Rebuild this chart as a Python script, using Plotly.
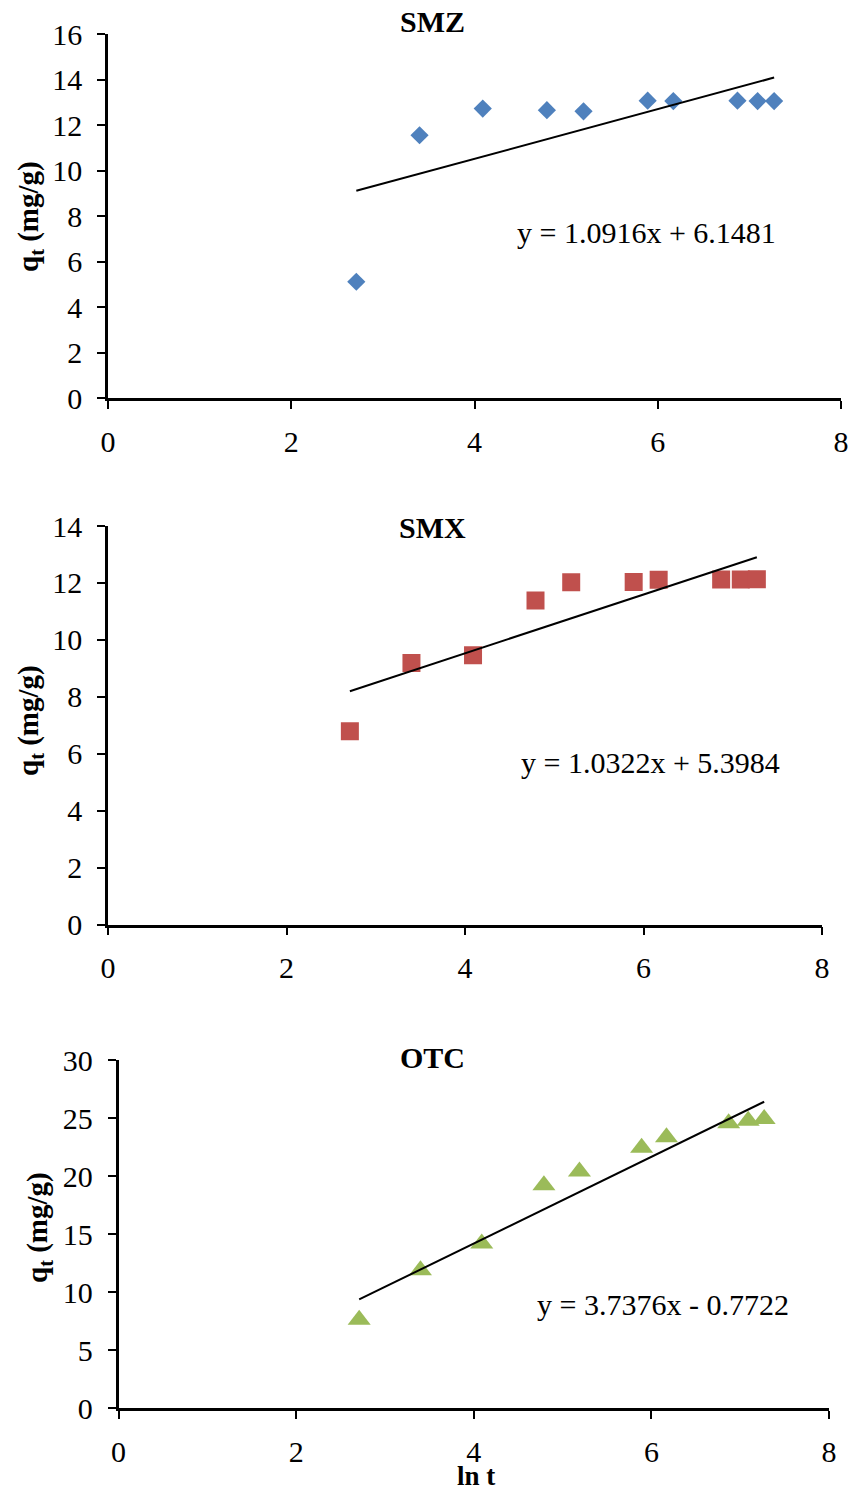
import plotly.graph_objects as go

# ---------------- data ----------------
ln_t = [2.71, 3.40, 4.09, 4.79, 5.19, 5.89, 6.17, 6.87, 7.09, 7.27]

smz_q = [5.11, 11.55, 12.72, 12.65, 12.60, 13.07, 13.05, 13.07, 13.05, 13.05]
smx_q = [6.79, 9.19, 9.46, 11.38, 12.02, 12.03, 12.11, 12.12, 12.12, 12.13]
otc_q = [7.61, 11.87, 14.18, 19.21, 20.38, 22.43, 23.33, 24.54, 24.77, 24.92]

panel_names = ["SMZ", "SMX", "OTC"]
slopes = [1.0916, 1.0322, 3.7376]
intercepts = [6.1481, 5.3984, -0.7722]
equations = ["y = 1.0916x + 6.1481", "y = 1.0322x + 5.3984", "y = 3.7376x - 0.7722"]
y_max = [16, 14, 30]
y_step = [2, 2, 5]
x_max = 8
x_step = 2

# ---------------- style ----------------
W, H = 851, 1490
FONT = "Liberation Serif"
colors = ["#4F81BD", "#C0504D", "#9BBB59"]
symbols = ["diamond", "square", "triangle-up"]
msizes = [14, 18, 20]

# plot-area pixel boxes (left, right, top, bottom)
boxes = [(108, 841, 34, 398), (108, 822, 526, 924.5), (118.5, 829, 1060, 1408)]


def pfx(x):
    return x / W


def pfy(y):
    return 1 - y / H


series = [smz_q, smx_q, otc_q]
fig = go.Figure()
layout = dict(width=W, height=H, margin=dict(l=0, r=0, t=0, b=0, autoexpand=False),
              paper_bgcolor="white", plot_bgcolor="white", showlegend=False,
              font=dict(family=FONT, color="black"))
annotations = []

for i in range(3):
    n = "" if i == 0 else str(i + 1)
    xa, ya = "x" + n, "y" + n
    fig.add_trace(go.Scatter(x=ln_t, y=series[i], mode="markers", xaxis=xa, yaxis=ya,
                             marker=dict(symbol=symbols[i], size=msizes[i], color=colors[i],
                                         line=dict(width=0))))
    x0, x1 = min(ln_t), max(ln_t)
    fig.add_trace(go.Scatter(x=[x0, x1], y=[slopes[i] * x0 + intercepts[i], slopes[i] * x1 + intercepts[i]],
                             mode="lines", xaxis=xa, yaxis=ya,
                             line=dict(color="black", width=2)))
    l, r, t, b = boxes[i]
    common = dict(showline=True, linecolor="black", linewidth=2.5, ticks="outside",
                  ticklen=8, tickwidth=1.5, tickcolor="black", showgrid=False, zeroline=False,
                  automargin=False, tickfont=dict(family=FONT, size=30, color="black"))
    layout["xaxis" + n] = dict(domain=[pfx(l), pfx(r)], range=[0, x_max], dtick=x_step, tick0=0,
                               anchor=ya, ticklabelstandoff=7, **common)
    layout["yaxis" + n] = dict(domain=[pfy(b), pfy(t)], range=[0, y_max[i]], dtick=y_step[i], tick0=0,
                               anchor=xa, ticklabelstandoff=9, **common)

# titles
title_pos = [(432, 22), (432, 527), (432, 1057)]
for i in range(3):
    annotations.append(dict(text="<b>%s</b>" % panel_names[i], x=pfx(title_pos[i][0]), y=pfy(title_pos[i][1]),
                            xref="paper", yref="paper", showarrow=False, xanchor="center", yanchor="middle",
                            font=dict(family=FONT, size=30, color="black")))
# equations
eq_pos = [(646, 233), (650, 762), (663, 1304)]
for i in range(3):
    annotations.append(dict(text=equations[i], x=pfx(eq_pos[i][0]), y=pfy(eq_pos[i][1]),
                            xref="paper", yref="paper", showarrow=False, xanchor="center", yanchor="middle",
                            font=dict(family=FONT, size=30, color="black")))
# y titles
yt_pos = [(30, 217), (30, 721), (39, 1228)]
for i in range(3):
    annotations.append(dict(text="<b>q<sub>t</sub> (mg/g)</b>", x=pfx(yt_pos[i][0]), y=pfy(yt_pos[i][1]),
                            xref="paper", yref="paper", showarrow=False, xanchor="center", yanchor="middle",
                            textangle=-90, font=dict(family=FONT, size=29, color="black")))
# x title
annotations.append(dict(text="<b>ln t</b>", x=pfx(476), y=pfy(1476), xref="paper", yref="paper",
                        showarrow=False, xanchor="center", yanchor="middle",
                        font=dict(family=FONT, size=27, color="black")))

layout["annotations"] = annotations
fig.update_layout(**layout)
fig.write_html("out.html", config={"responsive": False},
               post_script="document.body.style.margin='0';document.body.style.padding='0';")
